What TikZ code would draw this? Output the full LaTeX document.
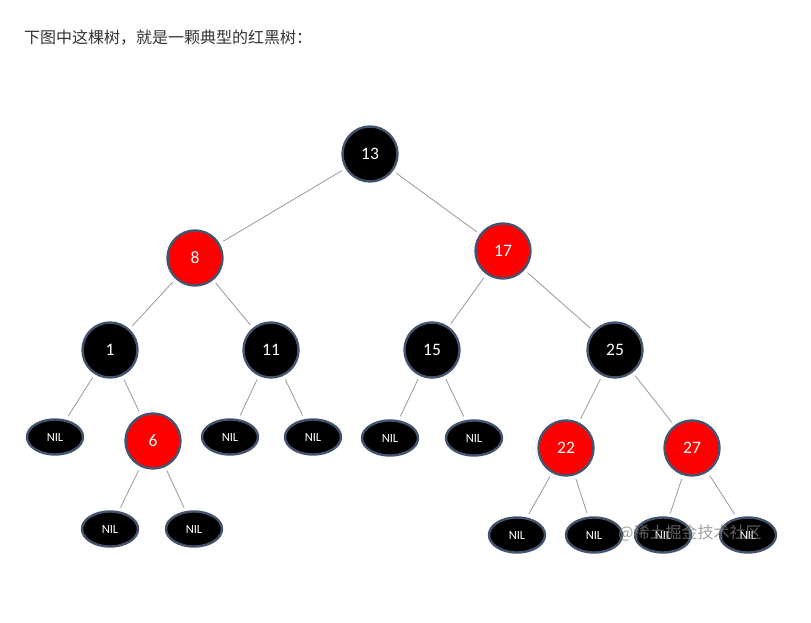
\documentclass[tikz,border=0pt]{standalone}
\usepackage{fontspec}
\setmainfont{Carlito}
\newfontfamily\cjk{Noto Sans CJK SC}
\usetikzlibrary{shapes.geometric}
\definecolor{rimc}{HTML}{44546E}
\definecolor{edgec}{HTML}{8F9CA6}
\definecolor{redc}{HTML}{FF0000}
\tikzset{
  rb/.style={circle, minimum size=55pt, inner sep=0pt, draw=rimc, line width=2.4pt, text=white, font=\fontsize{17.5}{20}\selectfont},
  blk/.style={rb, fill=black},
  rd/.style={rb, fill=redc},
  nil/.style={ellipse, minimum width=56pt, minimum height=35pt, inner sep=0pt, fill=black, draw=rimc, line width=2.4pt, text=white, font=\fontsize{12.5}{14}\selectfont},
  ed/.style={draw=edgec, line width=0.8pt, shorten <=4pt, shorten >=4pt}
}
\begin{document}
\begin{tikzpicture}[x=1pt,y=-1pt]
\useasboundingbox[fill=white] (0,0) rectangle (811,623);
\node[anchor=base west, inner sep=0pt, text=black!80, font=\cjk\fontsize{16}{19}\selectfont] (title) at (24,44) {下图中这棵树，就是一颗典型的红黑树：};

\node[blk] (n13) at (370,154) {13};
\node[rd]  (n8)  at (195,258) {8};
\node[rd]  (n17) at (503,251) {17};
\node[blk] (n1)  at (110,350) {1};
\node[blk] (n11) at (271,350) {11};
\node[blk] (n15) at (432,350) {15};
\node[blk] (n25) at (615,350) {25};
\node[rd]  (n6)  at (153,441) {6};
\node[rd]  (n22) at (566,448) {22};
\node[rd]  (n27) at (692,448) {27};

\node[nil] (a1) at (55,437) {NIL};
\node[nil] (a2) at (230,437) {NIL};
\node[nil] (a3) at (313,437) {NIL};
\node[nil] (a4) at (390,438) {NIL};
\node[nil] (a5) at (474,438) {NIL};
\node[nil] (b1) at (110,529) {NIL};
\node[nil] (b2) at (194,529) {NIL};
\node[nil] (c1) at (517,535) {NIL};
\node[nil] (c2) at (594,535) {NIL};
\node[nil] (c3) at (663,535) {NIL};
\node[nil] (c4) at (748,535) {NIL};

\draw[ed] (n13) -- (n8);
\draw[ed] (n13) -- (n17);
\draw[ed] (n8) -- (n1);
\draw[ed] (n8) -- (n11);
\draw[ed] (n17) -- (n15);
\draw[ed] (n17) -- (n25);
\draw[ed] (n1) -- (a1);
\draw[ed] (n1) -- (n6);
\draw[ed] (n11) -- (a2);
\draw[ed] (n11) -- (a3);
\draw[ed] (n15) -- (a4);
\draw[ed] (n15) -- (a5);
\draw[ed] (n25) -- (n22);
\draw[ed] (n25) -- (n27);
\draw[ed] (n6) -- (b1);
\draw[ed] (n6) -- (b2);
\draw[ed] (n22) -- (c1);
\draw[ed] (n22) -- (c2);
\draw[ed] (n27) -- (c3);
\draw[ed] (n27) -- (c4);

\node[anchor=center, inner sep=0pt, text=gray, opacity=0.75, font=\cjk\fontsize{16}{18}\selectfont] (wm) at (690,533) {@稀土掘金技术社区};
\end{tikzpicture}
\end{document}
